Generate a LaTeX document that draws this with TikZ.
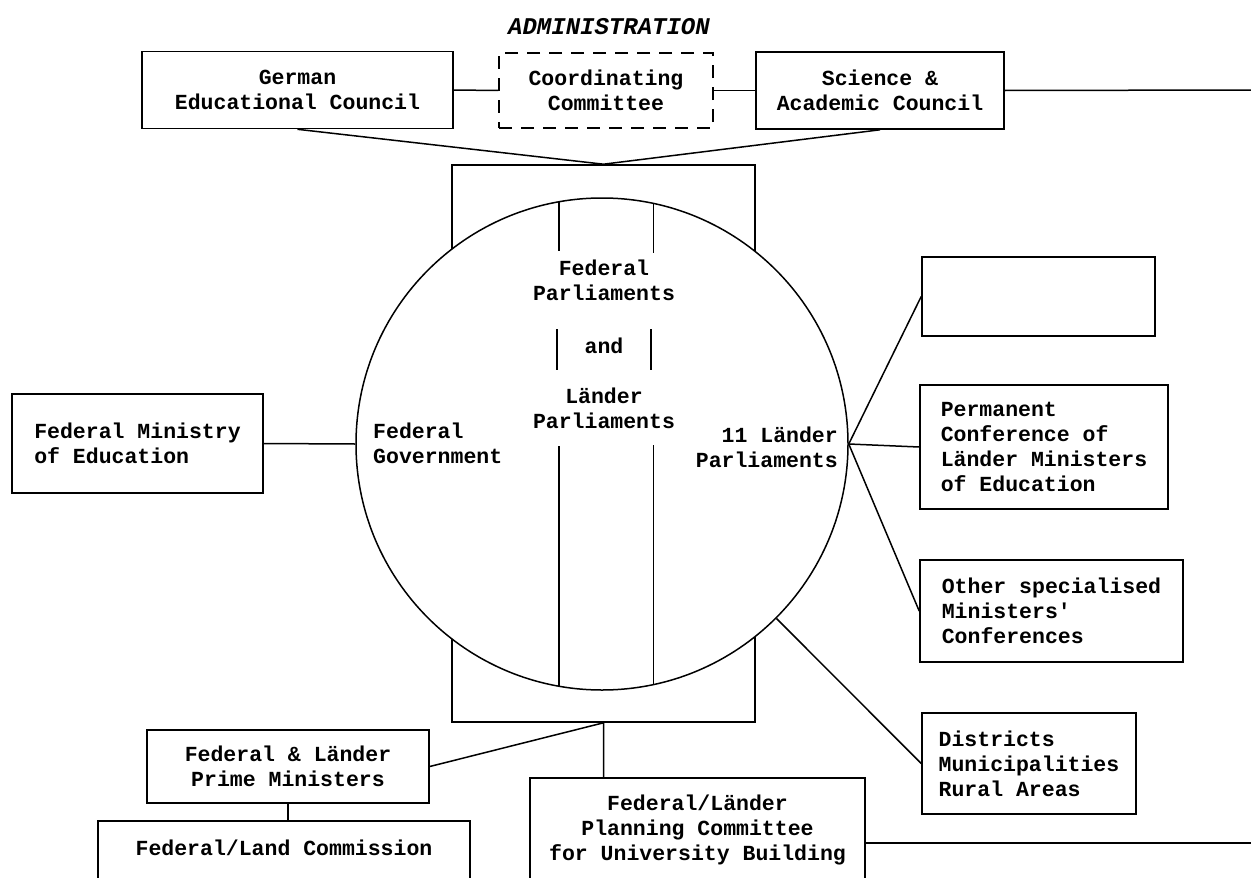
\documentclass[tikz,border=0pt]{standalone}
\usepackage{fontspec}
\setmonofont{Liberation Mono}
\usepackage{tikz}
\newcommand{\diafont}{\ttfamily\bfseries\fontsize{21.5}{25}\selectfont}
\tikzstyle{box} = [rectangle, draw=black, line width=1.6pt, align=center, inner sep=0pt, font=\diafont]
\tikzstyle{dashbox} = [box, dash pattern=on 13pt off 9pt]
\tikzstyle{lbox} = [box, align=left]
\tikzstyle{ring} = [circle, draw=black, line width=1.5pt, fill=white, minimum size=492pt, inner sep=0pt]
\tikzstyle{txt} = [inner sep=0pt, font=\diafont]
\tikzstyle{link} = [line width=1.5pt]

\begin{document}
\begin{tikzpicture}[x=1pt, y=-1pt]
	\useasboundingbox (0,0) rectangle (1251,878);
	\clip (0,0) rectangle (1251,878);
	% top row
	\node (admin) [txt, font=\ttfamily\bfseries\itshape\fontsize{24}{28}\selectfont] at (609,27) {ADMINISTRATION};
	\node (germ) [box, minimum width=311pt, minimum height=77pt] at (297.5,90) {German\\Educational Council};
	\node (coord) [dashbox, minimum width=214pt, minimum height=75pt] at (606,90.5) {Coordinating\\Committee};
	\node (sci) [box, minimum width=248pt, minimum height=77pt] at (880,90.5) {Science \&\\Academic Council};
	\coordinate (sciend) at (1251,90);
	% parliaments
	\node (frame) [box, minimum width=303pt, minimum height=557pt] at (603.5,443.5) {};
	\node (circ) [ring] at (602,444) {};
	\draw [link] (circ.100.5) -- ++(0,50);
	\draw [link] (circ.78.5) -- ++(0,50);
	\draw [link] (557,329) -- (557,370);
	\draw [link] (651,329) -- (651,370);
	\draw [link] (circ.-100.5) -- ++(0,-241);
	\draw [link] (circ.-78.5) -- ++(0,-240);
	\node (fedparl) [txt, align=center] at (604,280.5) {Federal\\Parliaments};
	\node (andtxt) [txt] at (604,346) {and};
	\node (landparl) [txt, align=center] at (604,408) {Länder\\Parliaments};
	\node (gov) [txt, align=left, anchor=west] at (373,443) {Federal\\Government};
	\node (land11) [txt, align=right, anchor=east] at (838,447) {11 Länder\\Parliaments};
	% sides
	\node (fedmin) [lbox, minimum width=251pt, minimum height=99pt] at (137.5,443.5) {Federal Ministry\\of Education};
	\node (blank) [box, minimum width=233pt, minimum height=79pt] at (1038.5,296.5) {};
	\node (kmk) [lbox, minimum width=248pt, minimum height=124pt] at (1044,447) {Permanent\\Conference of\\Länder Ministers\\of Education};
	\node (other) [lbox, minimum width=263pt, minimum height=102pt] at (1051.5,611) {Other specialised\\Ministers'\\Conferences};
	\node (distr) [lbox, minimum width=214pt, minimum height=101pt] at (1029,763.5) {Districts\\Municipalities\\Rural Areas};
	% bottom
	\node (prime) [box, minimum width=282pt, minimum height=73pt] at (288,766.5) {Federal \& Länder\\Prime Ministers};
	\node (comm) [box, anchor=north, minimum width=372pt, text height=15pt, text depth=50pt, inner ysep=20pt] at (284,820) {Federal/Land Commission};
	\node (plan) [box, minimum width=335pt, minimum height=104pt] at (697.5,830) {Federal/Länder\\Planning Committee\\for University Building};
	\coordinate (planend) at (1251,843);
	% connectors
	\draw [link] (germ.east) -- (coord.west);
	\draw [link] (coord.east) -- (sci.west);
	\draw [link] (sci.east) -- (sciend);
	\draw [link] (germ.south) -- (frame.north) -- (sci.south);
	\draw [link] (fedmin.east) -- (circ.west);
	\draw [link] (blank.west) -- (circ.east) -- (other.west);
	\draw [link] (circ.east) -- (kmk.west);
	\draw [link] (circ.-45) -- (distr.west);
	\draw [link] (prime.east) -- (frame.south) -- (frame.south |- plan.north);
	\draw [link] (prime.south) -- (prime.south |- comm.north);
	\draw [link] (plan.east |- planend) -- (planend);
\end{tikzpicture}
\end{document}
